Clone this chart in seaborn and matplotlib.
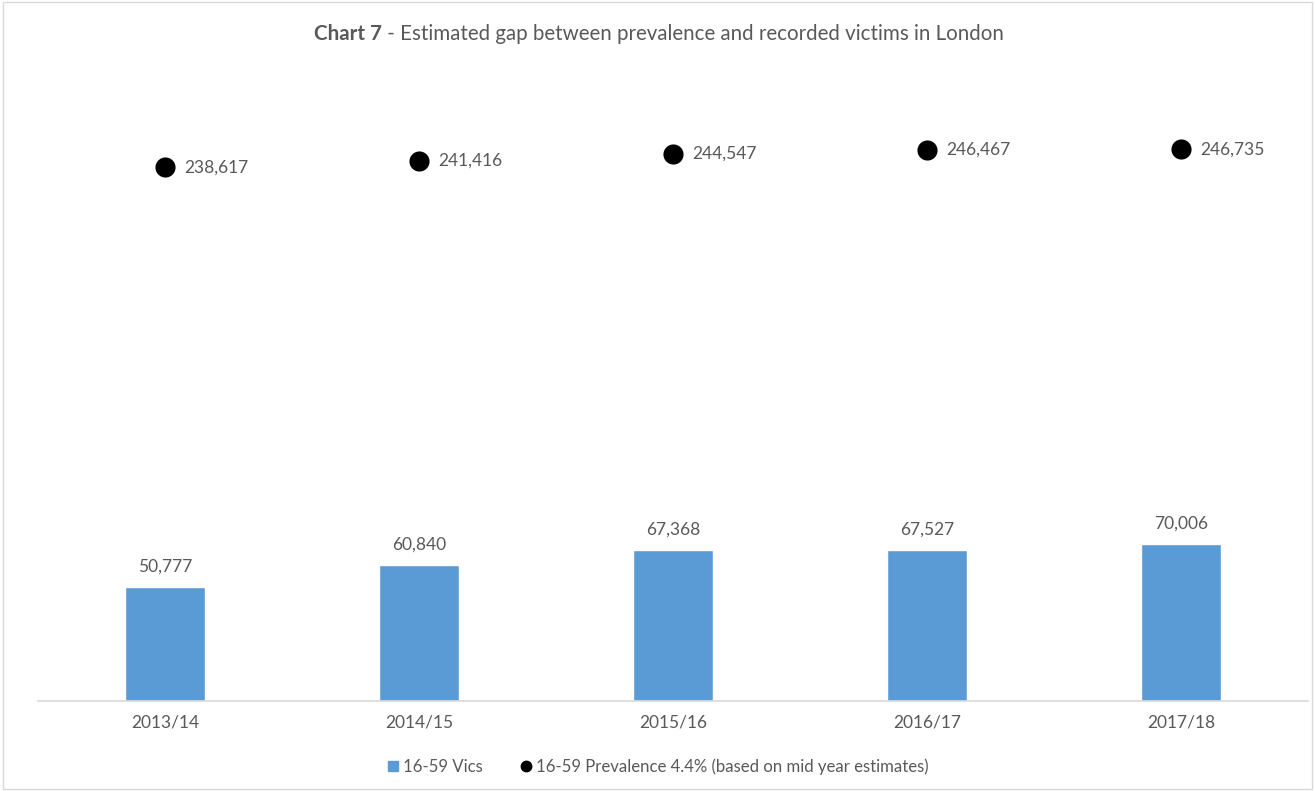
import matplotlib
matplotlib.use("Agg")
import matplotlib.pyplot as plt
import seaborn as sns
import pandas as pd
from matplotlib.lines import Line2D

years = ["2013/14", "2014/15", "2015/16", "2016/17", "2017/18"]
vics = [50777, 60840, 67368, 67527, 70006]
prevalence = [238617, 241416, 244547, 246467, 246735]
bar_label = "16-59 Vics"
point_label = "16-59 Prevalence 4.4% (based on mid year estimates)"
title_bold = "Chart 7"
title_rest = " - Estimated gap between prevalence and recorded victims in London"

df = pd.DataFrame({"year": years, "vics": vics, "prev": prevalence})

sns.set_theme(style="white")
plt.rcParams["font.family"] = ["Lato", "DejaVu Sans"]
gray = "#595959"

fig = plt.figure(figsize=(13.15, 7.91), dpi=100)
ax = fig.add_axes([38 / 1315, 90 / 791, 1270 / 1315, 671 / 791])

sns.barplot(data=df, x="year", y="vics", color="#5B9BD5", width=0.315,
            saturation=1, ax=ax, zorder=2)
sns.scatterplot(data=df, x="year", y="prev", color="black", s=210,
                edgecolor="black", linewidth=0, ax=ax, zorder=3)

ax.set_ylim(0, 300000)
ax.set_xlim(-0.5, len(years) - 0.5)
ax.set_xlabel("")
ax.set_ylabel("")
ax.set_yticks([])
for s in ["top", "right", "left"]:
    ax.spines[s].set_visible(False)
ax.spines["bottom"].set_color("#d9d9d9")
ax.spines["bottom"].set_linewidth(1.2)
ax.tick_params(axis="x", length=0, pad=10, labelsize=12.5, labelcolor=gray)

for i, v in enumerate(vics):
    ax.annotate(f"{v:,}", (i, v), xytext=(0, 9), textcoords="offset points",
                ha="center", va="bottom", fontsize=12.5, color=gray)
for i, v in enumerate(prevalence):
    ax.annotate(f"{v:,}", (i, v), xytext=(14, 0), textcoords="offset points",
                ha="left", va="center", fontsize=12.5, color=gray)

# Title with bold prefix
ty = 1 - 34 / 791
t1 = fig.text(0.5, ty, title_bold, fontsize=14.8, fontweight="bold",
              color=gray, ha="left", va="center")
t2 = fig.text(0, ty, title_rest, fontsize=14.8, color=gray,
              ha="left", va="center")
fig.canvas.draw()
bb1 = t1.get_window_extent()
bb2 = t2.get_window_extent()
total = bb1.width + bb2.width
start = 659 - total / 2
t1.set_x(start / 1315)
t2.set_x((start + bb1.width) / 1315)

handles = [
    Line2D([], [], marker="s", color="#5B9BD5", linestyle="none", markersize=7),
    Line2D([], [], marker="o", color="black", linestyle="none", markersize=7.5),
]
fig.legend(handles, [bar_label, point_label], loc="center",
           bbox_to_anchor=(0.5, 1 - 767 / 791), ncol=2, frameon=False,
           fontsize=12.1, labelcolor=gray, handletextpad=0.2,
           columnspacing=2.2, handlelength=0.8)

border = plt.Rectangle((0.002, 0.002), 0.996, 0.996, transform=fig.transFigure,
                       fill=False, edgecolor="#d9d9d9", linewidth=1)
fig.add_artist(border)

fig.savefig("out.png", dpi=100, facecolor="white")
